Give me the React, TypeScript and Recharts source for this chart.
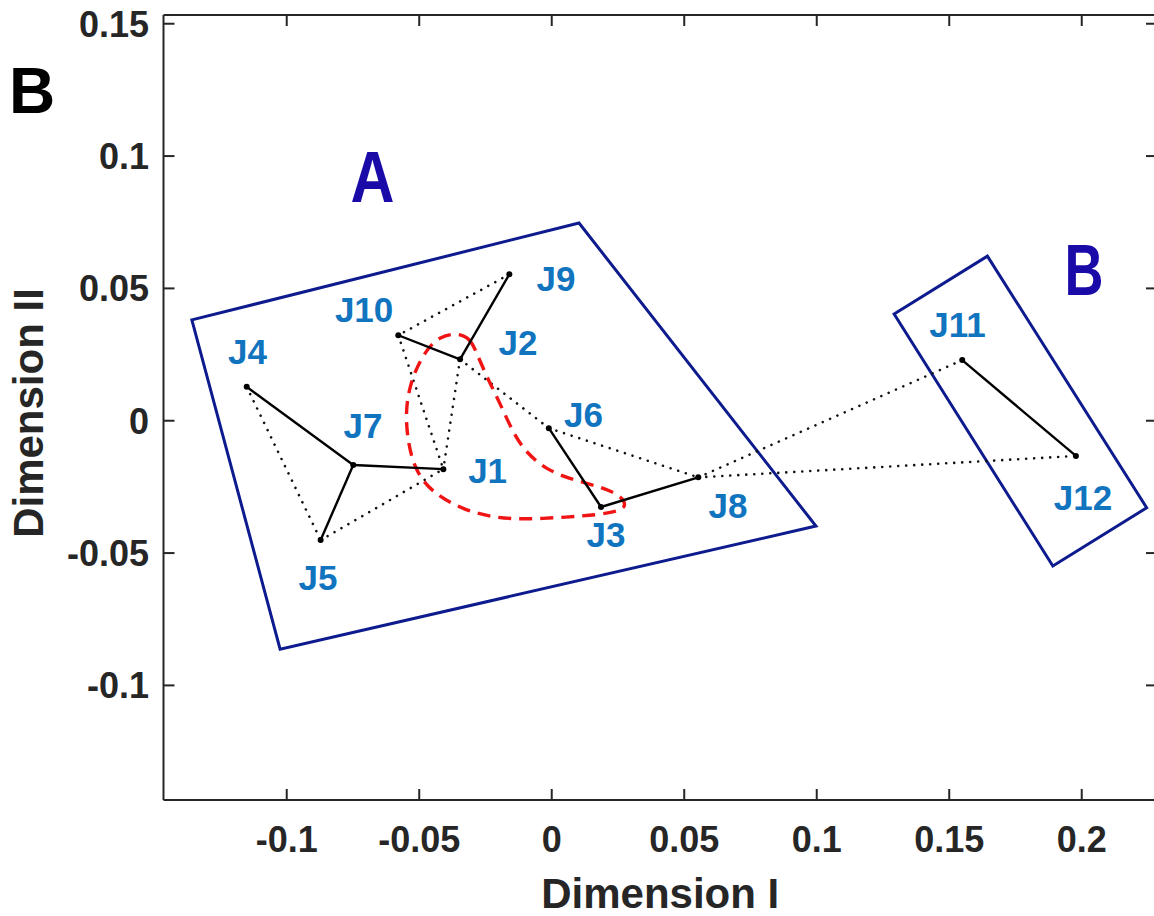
import React from 'react';
import { ComposedChart, Scatter, XAxis, YAxis, ReferenceLine } from 'recharts';

// ---------- data ----------
const xTicks = [-0.1, -0.05, 0, 0.05, 0.1, 0.15, 0.2];
const yTicks = [-0.1, -0.05, 0, 0.05, 0.1, 0.15];
const xDomain = [-0.1465, 0.2284];
const yDomain = [-0.1433, 0.1533];

const nodeNames = ['J1', 'J2', 'J3', 'J4', 'J5', 'J6', 'J7', 'J8', 'J9', 'J10', 'J11', 'J12'];
const nodeX = [-0.0409, -0.0346, 0.0186, -0.1151, -0.0872, -0.0011, -0.0749, 0.0553, -0.016, -0.0579, 0.1549, 0.1978];
const nodeY = [-0.0183, 0.0232, -0.0326, 0.0128, -0.0451, -0.0028, -0.0167, -0.0214, 0.0553, 0.0323, 0.0229, -0.0133];
const labelX = [-0.0242, -0.0127, 0.0205, -0.1148, -0.0882, 0.012, -0.0712, 0.0665, 0.0016, -0.0708, 0.1531, 0.2005];
const labelY = [-0.0188, 0.0296, -0.043, 0.0262, -0.0594, 0.0023, -0.0018, -0.032, 0.0539, 0.042, 0.0364, -0.029];

const solidEdges = [
  ['J9', 'J2'], ['J10', 'J2'], ['J4', 'J7'], ['J7', 'J5'], ['J7', 'J1'],
  ['J6', 'J3'], ['J3', 'J8'], ['J11', 'J12'],
];
const dottedEdges = [
  ['J9', 'J10'], ['J10', 'J1'], ['J2', 'J1'], ['J4', 'J5'], ['J5', 'J1'],
  ['J2', 'J6'], ['J6', 'J8'], ['J8', 'J11'], ['J8', 'J12'],
];

const polyAX = [-0.1358, 0.0103, 0.0997, -0.1025];
const polyAY = [0.0381, 0.0747, -0.0398, -0.0863];
const polyBX = [0.1292, 0.1644, 0.2245, 0.1891];
const polyBY = [0.0403, 0.0622, -0.0329, -0.0549];

const loopX = [-0.0358, -0.0308, -0.0283, -0.0245, -0.0195, -0.0145, -0.0094, -0.0019, 0.0082, 0.0182, 0.0258, 0.0283, 0.0258, 0.017, 0.0057, -0.0082, -0.0208, -0.0334, -0.0447, -0.0509, -0.0541, -0.0554, -0.0528, -0.0472, -0.0422];
const loopY = [0.0332, 0.0312, 0.0255, 0.0166, 0.0066, -0.0048, -0.0123, -0.0186, -0.0224, -0.0249, -0.0281, -0.0319, -0.0341, -0.0356, -0.0364, -0.0372, -0.0369, -0.0337, -0.0274, -0.0199, -0.0098, 0.004, 0.0166, 0.0272, 0.0318];

const groupNames = ['A', 'B'];
const groupX = [-0.0676, 0.2009];
const groupY = [0.0925, 0.0573];
const groupWidths = [44, 39];

// ---------- derived ----------
const nodes = nodeNames.map((name, i) => ({ name, x: nodeX[i], y: nodeY[i] }));
const nodeByName: Record<string, { name: string; x: number; y: number }> = {};
nodes.forEach((n) => (nodeByName[n.name] = n));
const labels = nodeNames.map((name, i) => ({ name, x: labelX[i], y: labelY[i] }));
const polyA = polyAX.map((x, i) => ({ x, y: polyAY[i] }));
const polyB = polyBX.map((x, i) => ({ x, y: polyBY[i] }));
const loop = loopX.map((x, i) => ({ x, y: loopY[i] }));
const groups = groupNames.map((name, i) => ({ name, x: groupX[i], y: groupY[i], w: groupWidths[i] }));

// ---------- layout / style ----------
const FONT = '"Liberation Sans", Arial, Helvetica, sans-serif';
const AXIS = '#262626';
const PLOT_TOP = 15;
const PLOT_RIGHT = 1157;
const TICK_LEN = 11;

const Empty = () => <g />;

const XTick = (props: any) => {
  const { x, y, payload } = props;
  return (
    <g>
      <line x1={x} x2={x} y1={y} y2={y - TICK_LEN} stroke={AXIS} strokeWidth={2} />
      <line x1={x} x2={x} y1={PLOT_TOP} y2={PLOT_TOP + TICK_LEN} stroke={AXIS} strokeWidth={2} />
      <text x={x} y={y + 52} textAnchor="middle" fontFamily={FONT} fontWeight="bold" fontSize={36} fill={AXIS}>
        {String(payload.value)}
      </text>
    </g>
  );
};

const YTick = (props: any) => {
  const { x, y, payload } = props;
  return (
    <g>
      <line x1={x} x2={x + TICK_LEN} y1={y} y2={y} stroke={AXIS} strokeWidth={2} />
      <line x1={PLOT_RIGHT - TICK_LEN} x2={PLOT_RIGHT} y1={y} y2={y} stroke={AXIS} strokeWidth={2} />
      <text x={x - 14.5} y={y + 13} textAnchor="end" fontFamily={FONT} fontWeight="bold" fontSize={36} fill={AXIS}>
        {String(payload.value)}
      </text>
    </g>
  );
};

const NodeDot = (props: any) => <circle cx={props.cx} cy={props.cy} r={3} fill="#000" />;

const NodeLabel = (props: any) => (
  <text x={props.cx} y={props.cy + 12.5} textAnchor="middle" fontFamily={FONT} fontWeight="bold" fontSize={35} fill="#1074bf">
    {props.payload.name}
  </text>
);

const GroupLabel = (props: any) => (
  <text
    x={props.cx}
    y={props.cy + 26}
    textAnchor="middle"
    fontFamily={FONT}
    fontWeight="bold"
    fontSize={72}
    fill="#1a0aa8"
    textLength={props.payload.w}
    lengthAdjust="spacingAndGlyphs"
  >
    {props.payload.name}
  </text>
);

const XLabel = (props: any) => {
  const vb = props.viewBox || { x: 163.5, y: 800, width: 993.5 };
  return (
    <text x={vb.x + vb.width / 2} y={908} textAnchor="middle" fontFamily={FONT} fontWeight="bold" fontSize={42} fill={AXIS}>
      Dimension I
    </text>
  );
};

const YLabel = () => (
  <text
    x={43}
    y={413}
    transform="rotate(-90 43 413)"
    textAnchor="middle"
    fontFamily={FONT}
    fontWeight="bold"
    fontSize={42}
    fill={AXIS}
  >
    Dimension II
  </text>
);

export default function App() {
  return (
    <div style={{ position: 'absolute', left: 0, top: 0, width: 1154, height: 916, overflow: 'hidden', background: '#fff' }}>
      <ComposedChart width={1160} height={916} margin={{ top: PLOT_TOP, right: 3, bottom: 0, left: 0 }}>
        <XAxis
          type="number"
          dataKey="x"
          domain={xDomain}
          ticks={xTicks}
          allowDataOverflow
          height={116}
          tickSize={0}
          tickMargin={0}
          tick={<XTick />}
          axisLine={{ stroke: AXIS, strokeWidth: 2 }}
          tickLine={false}
          label={<XLabel />}
          interval={0}
        />
        <YAxis
          type="number"
          dataKey="y"
          domain={yDomain}
          ticks={yTicks}
          allowDataOverflow
          width={163.5}
          tickSize={0}
          tickMargin={0}
          tick={<YTick />}
          axisLine={{ stroke: AXIS, strokeWidth: 2 }}
          tickLine={false}
          label={<YLabel />}
          interval={0}
        />
        <ReferenceLine y={yDomain[1]} stroke={AXIS} strokeWidth={2} ifOverflow="visible" />
        <ReferenceLine x={xDomain[1]} stroke={AXIS} strokeWidth={2} ifOverflow="visible" />

        <Scatter data={polyA} shape={<Empty />} line={{ stroke: '#0d1b8e', strokeWidth: 3 }} lineJointType="linearClosed" isAnimationActive={false} />
        <Scatter data={polyB} shape={<Empty />} line={{ stroke: '#0d1b8e', strokeWidth: 3 }} lineJointType="linearClosed" isAnimationActive={false} />

        {dottedEdges.map(([a, b], i) => (
          <Scatter
            key={'d' + i}
            data={[nodeByName[a], nodeByName[b]]}
            shape={<Empty />}
            line={{ stroke: '#111', strokeWidth: 2.6, strokeDasharray: '0.01 8', strokeLinecap: 'round' }}
            isAnimationActive={false}
          />
        ))}

        <Scatter
          data={loop}
          shape={<Empty />}
          line={{ stroke: '#f01414', strokeWidth: 3.4, strokeDasharray: '13 8' }}
          lineJointType="basisClosed"
          isAnimationActive={false}
        />

        {solidEdges.map(([a, b], i) => (
          <Scatter
            key={'s' + i}
            data={[nodeByName[a], nodeByName[b]]}
            shape={<Empty />}
            line={{ stroke: '#000', strokeWidth: 2.4 }}
            isAnimationActive={false}
          />
        ))}

        <Scatter data={nodes} shape={<NodeDot />} isAnimationActive={false} />
        <Scatter data={labels} shape={<NodeLabel />} isAnimationActive={false} />
        <Scatter data={groups} shape={<GroupLabel />} isAnimationActive={false} />
      </ComposedChart>
      <svg width={1154} height={916} style={{ position: 'absolute', left: 0, top: 0, pointerEvents: 'none' }}>
        <text x={9} y={113} fontFamily={FONT} fontWeight="bold" fontSize={64} fill="#000">
          B
        </text>
      </svg>
    </div>
  );
}
